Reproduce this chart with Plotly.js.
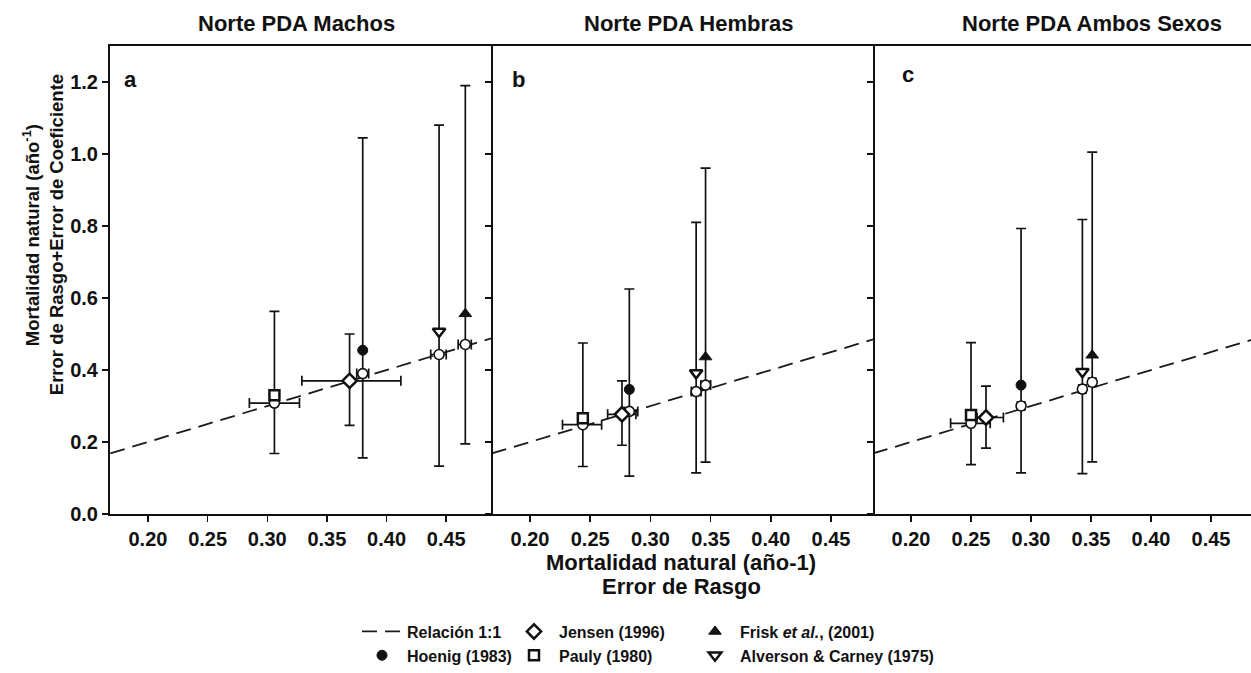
<!DOCTYPE html>
<html>
<head>
<meta charset="utf-8">
<script src="https://cdn.plot.ly/plotly-3.0.1.min.js"></script>
<style>html,body{margin:0;padding:0;background:#fff;}</style>
</head>
<body>
<div id="chart" style="width:1251px;height:673px;"></div>
<script>
// ---------- data ----------
const panelTitles = ['Norte PDA Machos', 'Norte PDA Hembras', 'Norte PDA Ambos Sexos'];
const panelLetters = ['a', 'b', 'c'];
const methods = ['Hoenig (1983)', 'Jensen (1996)', 'Pauly (1980)', 'Frisk <i>et al.</i>, (2001)', 'Alverson & Carney (1975)'];
const oneToOne = [0.15, 0.50];
const yTicks = [0.0, 0.2, 0.4, 0.6, 0.8, 1.0, 1.2];
const xTicks = [0.20, 0.25, 0.30, 0.35, 0.40, 0.45];

// order: Hoenig, Jensen, Pauly, Frisk, Alverson
// Panel a - Machos
const xMachos    = [0.380, 0.369, 0.306, 0.466, 0.444];
const xLoMachos  = [0.375, 0.329, 0.285, 0.460, 0.437];
const xHiMachos  = [0.385, 0.412, 0.327, 0.471, 0.450];
const yLineMachos= [0.390, 0.370, 0.308, 0.471, 0.443];
const yMachos    = [0.455, 0.370, 0.330, 0.556, 0.507];
const yLoMachos  = [0.156, 0.246, 0.168, 0.195, 0.133];
const yHiMachos  = [1.045, 0.500, 0.563, 1.190, 1.080];
// Panel b - Hembras
const xHembras    = [0.2825, 0.2764, 0.2439, 0.3458, 0.338];
const xLoHembras  = [0.2785, 0.2645, 0.227, 0.342, 0.334];
const xHiHembras  = [0.2895, 0.2880, 0.2595, 0.350, 0.342];
const yLineHembras= [0.285, 0.277, 0.248, 0.358, 0.340];
const yHembras    = [0.346, 0.277, 0.266, 0.436, 0.392];
const yLoHembras  = [0.105, 0.191, 0.132, 0.144, 0.114];
const yHiHembras  = [0.625, 0.370, 0.475, 0.961, 0.810];
// Panel c - Ambos Sexos
const xAmbos    = [0.2917, 0.2625, 0.250, 0.351, 0.3428];
const xLoAmbos  = [0.2887, 0.255, 0.233, 0.348, 0.3398];
const xHiAmbos  = [0.2947, 0.277, 0.266, 0.354, 0.3458];
const yLineAmbos= [0.300, 0.268, 0.252, 0.366, 0.347];
const yAmbos    = [0.358, 0.268, 0.275, 0.441, 0.395];
const yLoAmbos  = [0.114, 0.183, 0.137, 0.145, 0.112];
const yHiAmbos  = [0.793, 0.355, 0.476, 1.005, 0.818];

// ---------- styling ----------
const FONT = '"Liberation Sans Narrow", "Arial Narrow", "Liberation Sans", Arial, sans-serif';
const INK = '#111';
const panels = [
  {x: xMachos, xLo: xLoMachos, xHi: xHiMachos, yLine: yLineMachos, y: yMachos, yLo: yLoMachos, yHi: yHiMachos},
  {x: xHembras, xLo: xLoHembras, xHi: xHiHembras, yLine: yLineHembras, y: yHembras, yLo: yLoHembras, yHi: yHiHembras},
  {x: xAmbos, xLo: xLoAmbos, xHi: xHiAmbos, yLine: yLineAmbos, y: yAmbos, yLo: yLoAmbos, yHi: yHiAmbos}
];
const markerStyles = [
  {symbol: 'circle', size: 10, color: INK, line: {color: INK, width: 1}},
  {symbol: 'diamond', size: 11, color: '#fff', line: {color: INK, width: 2.5}},
  {symbol: 'square', size: 10, color: '#fff', line: {color: INK, width: 2.5}},
  {symbol: 'triangle-up', size: 11, color: INK, line: {color: INK, width: 1}},
  {symbol: 'triangle-down', size: 11, color: '#fff', line: {color: INK, width: 2.5}}
];
const legendOf = ['legend', 'legend2', 'legend2', 'legend3', 'legend3'];

const axSuffix = ['', '2', '3'];
const traces = [];
panels.forEach((p, i) => {
  const xa = 'x' + axSuffix[i], ya = 'y' + axSuffix[i];
  traces.push({
    x: oneToOne, y: oneToOne, xaxis: xa, yaxis: ya, mode: 'lines',
    line: {color: '#1a1a1a', width: 1.8, dash: '15px,8px'},
    name: 'Relación 1:1', legend: 'legend', showlegend: i === 0, legendrank: -1, hoverinfo: 'skip'
  });
});
panels.forEach((p, i) => {
  const xa = 'x' + axSuffix[i], ya = 'y' + axSuffix[i];
  traces.push({
    x: p.x, y: p.y, xaxis: xa, yaxis: ya, mode: 'markers',
    marker: {size: 1, color: 'rgba(0,0,0,0)'},
    error_y: {type: 'data', symmetric: false,
      array: p.yHi.map((v, k) => v - p.y[k]),
      arrayminus: p.y.map((v, k) => v - p.yLo[k]),
      color: INK, thickness: 1.7, width: 5},
    showlegend: false, hoverinfo: 'skip'
  });
  traces.push({
    x: p.x, y: p.yLine, xaxis: xa, yaxis: ya, mode: 'markers',
    marker: {symbol: 'circle', size: 10, color: '#fff', line: {color: INK, width: 1.6}},
    error_x: {type: 'data', symmetric: false,
      array: p.xHi.map((v, k) => v - p.x[k]),
      arrayminus: p.x.map((v, k) => v - p.xLo[k]),
      color: INK, thickness: 1.7, width: 5},
    showlegend: false, hoverinfo: 'skip'
  });
});
panels.forEach((p, i) => {
  const xa = 'x' + axSuffix[i], ya = 'y' + axSuffix[i];
  methods.forEach((m, k) => {
    traces.push({
      x: [p.x[k]], y: [p.y[k]], xaxis: xa, yaxis: ya, mode: 'markers',
      marker: markerStyles[k], name: m, legend: legendOf[k],
      showlegend: i === 0, legendrank: k
    });
  });
});

// ---------- layout ----------
const W = 1251, H = 673;
const mL = 110, mR = 0, mT = 46, mB = 157;
const pw = W - mL - mR;
const edges = [110, 493, 875, 1251].map(v => (v - mL) / pw);
const xRanges = [[0.1682, 0.4892], [0.1693, 0.4865], [0.1700, 0.4833]];

const tickFont = {family: FONT, size: 20, color: INK, weight: 'bold'};
function xAxis(i) {
  return {
    domain: [edges[i], edges[i + 1]], range: xRanges[i], anchor: 'y' + axSuffix[i],
    tickvals: xTicks, tickformat: '.2f', ticks: 'outside', ticklen: 6, tickwidth: 1.5, tickcolor: INK,
    showline: true, linecolor: INK, linewidth: 2, mirror: true,
    showgrid: false, zeroline: false, tickfont: tickFont
  };
}
function yAxis(i) {
  return {
    domain: [0, 1], range: [0, 1.3], anchor: 'x' + axSuffix[i],
    tickvals: yTicks, tickformat: '.1f', ticks: 'outside', ticklen: 6, tickwidth: 1.5, tickcolor: INK,
    showline: true, linecolor: INK, linewidth: 2, mirror: false,
    showticklabels: i === 0, showgrid: false, zeroline: false, tickfont: tickFont
  };
}
const px2x = v => (v - mL) / pw;
const py2y = v => (H - mB - v) / (H - mB - mT);
const titleCenters = [296, 688, 1092];
const letterPos = [[130, 80], [518, 80], [908, 75]];

const annotations = [];
panelTitles.forEach((t, i) => annotations.push({
  text: t, xref: 'paper', yref: 'paper', x: px2x(titleCenters[i]), y: py2y(23),
  xanchor: 'center', yanchor: 'middle', showarrow: false,
  font: {family: FONT, size: 22, color: INK, weight: 'bold'}
}));
panelLetters.forEach((t, i) => annotations.push({
  text: t, xref: 'paper', yref: 'paper', x: px2x(letterPos[i][0]), y: py2y(letterPos[i][1]),
  xanchor: 'center', yanchor: 'middle', showarrow: false,
  font: {family: FONT, size: 22, color: INK, weight: 'bold'}
}));
annotations.push({
  text: 'Mortalidad natural (año-1)', xref: 'paper', yref: 'paper',
  x: px2x(681), y: py2y(565), xanchor: 'center', yanchor: 'middle', showarrow: false,
  font: {family: FONT, size: 22, color: INK, weight: 'bold'}
});
annotations.push({
  text: 'Error de Rasgo', xref: 'paper', yref: 'paper',
  x: px2x(681), y: py2y(589), xanchor: 'center', yanchor: 'middle', showarrow: false,
  font: {family: FONT, size: 22, color: INK, weight: 'bold'}
});
annotations.push({
  text: 'Mortalidad natural (año<sup>-1</sup>)', xref: 'paper', yref: 'paper',
  x: px2x(31), y: py2y(236), xanchor: 'center', yanchor: 'middle', textangle: -90, showarrow: false,
  font: {family: FONT, size: 18.5, color: INK, weight: 'bold'}
});
annotations.push({
  text: 'Error de Rasgo+Error de Coeficiente', xref: 'paper', yref: 'paper',
  x: px2x(56), y: py2y(236), xanchor: 'center', yanchor: 'middle', textangle: -90, showarrow: false,
  font: {family: FONT, size: 18.5, color: INK, weight: 'bold'}
});

const legFont = {family: FONT, size: 16, color: INK, weight: 'bold'};
function leg(xpx) {
  return {x: px2x(xpx), y: py2y(617), xanchor: 'left', yanchor: 'top', orientation: 'v',
    font: legFont, bgcolor: 'rgba(0,0,0,0)', borderwidth: 0, itemwidth: 40, tracegroupgap: 0, traceorder: 'normal'};
}

const layout = {
  width: W, height: H, margin: {l: mL, r: mR, t: mT, b: mB, pad: 0},
  paper_bgcolor: '#fff', plot_bgcolor: '#fff', showlegend: true,
  font: {family: FONT, color: INK},
  xaxis: xAxis(0), xaxis2: xAxis(1), xaxis3: xAxis(2),
  yaxis: yAxis(0), yaxis2: yAxis(1), yaxis3: yAxis(2),
  legend: leg(357), legend2: leg(509), legend3: leg(690),
  annotations: annotations
};
Plotly.newPlot('chart', traces, layout, {displayModeBar: false, staticPlot: true});
</script>
</body>
</html>
